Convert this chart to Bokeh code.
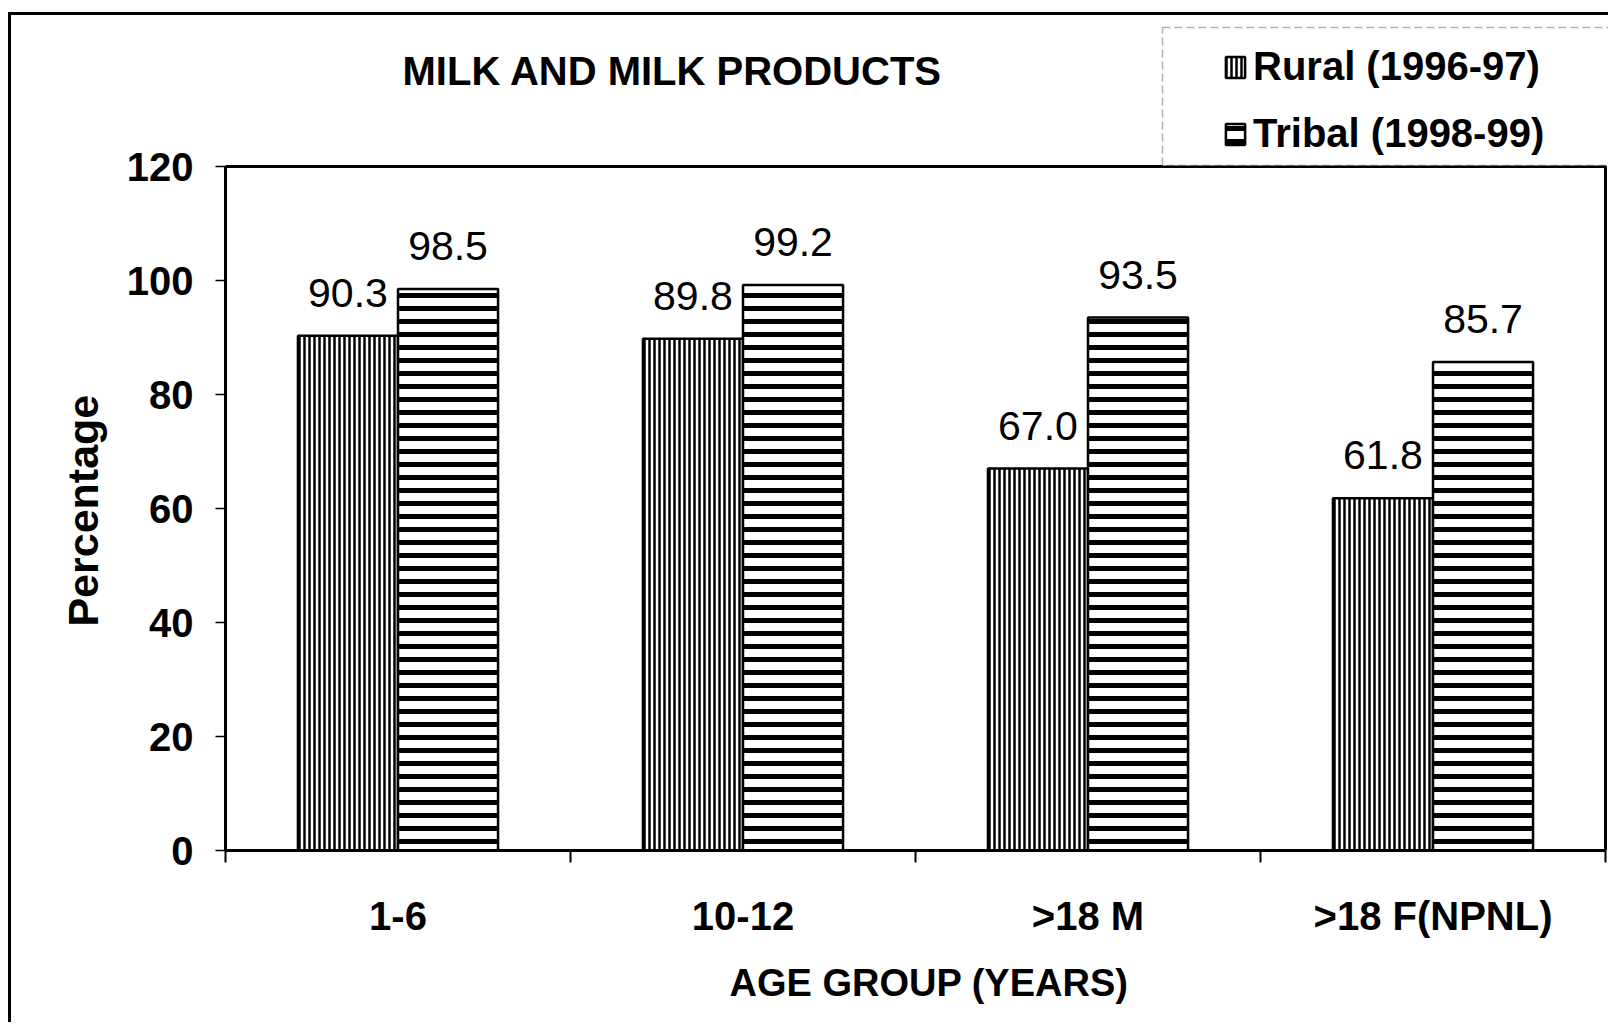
from bokeh.plotting import figure
from bokeh.models import (Range1d, FixedTicker, ColumnDataSource, LabelSet, Label,
                          BoxAnnotation, Legend, LegendItem)
from bokeh.core.properties import value
from bokeh.transform import dodge
from bokeh.embed import file_html
from bokeh.resources import INLINE

# ---------------- data ----------------
categories = ["1-6", "10-12", ">18 M", ">18 F(NPNL)"]
rural = [90.3, 89.8, 67.0, 61.8]
tribal = [98.5, 99.2, 93.5, 85.7]
series_names = ["Rural (1996-97)", "Tribal (1998-99)"]
y_ticks = [0, 20, 40, 60, 80, 100, 120]
title_text = "MILK AND MILK PRODUCTS"
x_title = "AGE GROUP (YEARS)"
y_title = "Percentage"

FONT = "Liberation Sans"
NBSP = "\u00a0"

# ---------------- layout constants (page px) ----------------
OX, OY = 11, 15            # canvas origin on the page (after css margin + border)
W, H = 1600, 1010
FL, FR, FT, FB = 225, 1605, 166, 850   # visible plot box
N = len(categories)
YMAX = 120
frame_right = OX + W
frame_top = OY
XEND = N * (frame_right - FL) / (FR - FL)
YEND = YMAX * (FB - frame_top) / (FB - FT)


def dx(px):
    return (px - FL) / (FR - FL) * N


def dy(py):
    return (FB - py) / (FB - FT) * YMAX


p = figure(width=W, height=H, x_range=Range1d(0, XEND), y_range=Range1d(0, YEND),
           output_backend="svg", toolbar_location=None, title=None,
           min_border_left=FL - OX, min_border_right=0,
           min_border_top=0, min_border_bottom=OY + H - FB)
p.styles = {"margin-left": "8px", "margin-top": "12px",
            "border-left": "3px solid black", "border-top": "3px solid black"}
p.grid.visible = False
p.background_fill_color = "white"
p.border_fill_color = "white"
p.outline_line_alpha = 0

# visible plot-area box
p.quad(left=[0], right=[N], bottom=[0], top=[YMAX], fill_alpha=0,
       line_color="black", line_width=3)

centers = [i + 0.5 for i in range(N)]
src = ColumnDataSource(dict(
    x=centers, cat=categories, rural=rural, tribal=tribal,
    rl=[f"{v:.1f}" for v in rural], tl=[f"{v:.1f}" for v in tribal]))

BW = 0.29
r1 = p.vbar(x=dodge("x", -BW / 2), top="rural", width=BW, source=src,
            fill_color="white", line_color="black", line_width=2.5,
            hatch_pattern="vertical_line", hatch_color="black",
            hatch_scale=5, hatch_weight=2.5)
r2 = p.vbar(x=dodge("x", BW / 2), top="tribal", width=BW, source=src,
            fill_color="white", line_color="black", line_width=2.5,
            hatch_pattern="horizontal_line", hatch_color="black",
            hatch_scale=13, hatch_weight=5)

for xf, yf, tf in ((dodge("x", -BW / 2), "rural", "rl"), (dodge("x", BW / 2), "tribal", "tl")):
    p.add_layout(LabelSet(x=xf, y=yf, text=tf, source=src,
                          text_align="center", text_baseline="alphabetic", y_offset=29,
                          text_font=value(FONT), text_font_size=value("41px"),
                          text_color="black"))

# y axis
ya = p.yaxis[0]
ya.ticker = FixedTicker(ticks=y_ticks)
ya.bounds = (0, YMAX)
ya.axis_line_width = 3
ya.major_tick_out = 10
ya.major_tick_in = 0
ya.major_tick_line_width = 1.5
ya.minor_tick_out = 0
ya.minor_tick_in = 0
ya.major_label_standoff = 22
ya.major_label_text_font = FONT
ya.major_label_text_font_size = "40px"
ya.major_label_text_font_style = "bold"
ya.major_label_text_color = "black"
# trailing no-break spaces centre the title on the visible plot box, not the full frame
ya.axis_label = y_title + NBSP * 13
ya.axis_label_text_font = FONT
ya.axis_label_text_font_size = "43px"
ya.axis_label_text_font_style = "bold"
ya.axis_label_text_color = "black"
ya.axis_label_standoff = 17

# x axis: labels at category centres, ticks at category boundaries
xa = p.xaxis[0]
xa.ticker = FixedTicker(ticks=centers, minor_ticks=list(range(N + 1)))
xa.major_label_overrides = {c: lab for c, lab in zip(centers, categories)}
xa.bounds = (0, N)
xa.axis_line_width = 3
xa.major_tick_out = 0
xa.major_tick_in = 0
xa.minor_tick_out = 12
xa.minor_tick_in = 0
xa.minor_tick_line_width = 2
xa.minor_tick_line_color = "black"
xa.major_label_standoff = 31
xa.major_label_text_font = FONT
xa.major_label_text_font_size = "40px"
xa.major_label_text_font_style = "bold"
xa.major_label_text_color = "black"
xa.axis_label = NBSP * 2 + x_title
xa.axis_label_text_font = FONT
xa.axis_label_text_font_size = "38px"
xa.axis_label_text_font_style = "bold"
xa.axis_label_text_color = "black"
xa.axis_label_standoff = 21

# title
p.add_layout(Label(x=dx(672), y=dy(70), text=title_text, text_align="center",
                   text_baseline="middle", text_font=FONT, text_font_size="40px",
                   text_font_style="bold", text_color="black"))

# legend box
p.add_layout(BoxAnnotation(left=dx(1162), right=dx(1609), top=dy(27), bottom=dy(165),
                           fill_color="white", fill_alpha=1, line_color="black",
                           line_width=1.5, line_dash="8 4"))

legend = Legend(items=[LegendItem(label=series_names[0], renderers=[r1]),
                       LegendItem(label=series_names[1], renderers=[r2])],
                location=(1223 - 10 - FL, FB - 166), orientation="vertical",
                label_text_font=FONT, label_text_font_size="40px",
                label_text_font_style="bold", label_text_color="black",
                glyph_width=24, glyph_height=26, label_standoff=6,
                label_height=40, spacing=22, padding=10, margin=0,
                border_line_alpha=0, background_fill_alpha=0)
p.add_layout(legend)

open("out.html", "w").write(file_html(p, INLINE))
